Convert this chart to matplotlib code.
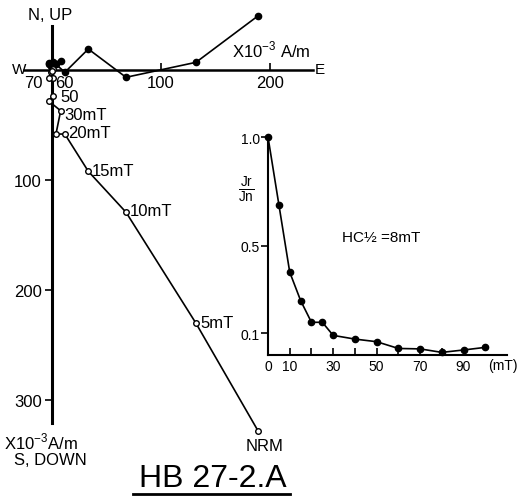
import matplotlib
matplotlib.use("Agg")
import matplotlib.pyplot as plt
from matplotlib.lines import Line2D

# ─── DATA ───────────────────────────────────────────────────────────────────
# AF demagnetisation steps (mT), step 0 = NRM
steps = [0, 5, 10, 15, 20, 25, 30, 40, 50, 60, 70, 80, 90, 100]

# Zijderveld components, x10^-3 A/m
east  = [189, 132, 68, 33.5, 12, 3.9, 8.2, -2.5, 0.9, 1.5, -2.5, -1, 1, 0]
north = [49.1, 6.7, -6.9, 18.8, -2.4, 5, 8, 6, 7, 4, 5, 3, 4, 2]
down  = [328.7, 230.5, 129.6, 92.4, 58.5, 58.5, 37.3, 28.7, 23.6, 7.5, 7.5, 2, -1, 1]

step_labels = {0: "NRM", 5: "5mT", 10: "10mT", 15: "15mT", 20: "20mT",
               30: "30mT", 50: "50", 60: "60", 70: "70"}

# normalised intensity Jr/Jn
jr_jn = [1.0, 0.69, 0.38, 0.25, 0.15, 0.15, 0.09, 0.073, 0.061,
         0.03, 0.028, 0.012, 0.023, 0.035]

main_ticks = [100, 200, 300]
inset_xticks = [0, 10, 20, 30, 40, 50, 60, 70, 80, 90]
inset_xlabels = ["0", "10", "", "30", "", "50", "", "70", "", "90"]
inset_yticks = [0.1, 0.5, 1.0]

# ─── FIGURE ─────────────────────────────────────────────────────────────────
W_PX, H_PX = 517, 502
plt.rcParams["font.family"] = ["Liberation Sans", "DejaVu Sans"]

fig = plt.figure(figsize=(W_PX / 100, H_PX / 100), dpi=100)


def fpos(x, y):
    # pixel position -> figure fraction
    return x / W_PX, 1 - y / H_PX


def ftext(x, y, s, **kw):
    fx, fy = fpos(x, y)
    fig.text(fx, fy, s, **kw)


# main Zijderveld axes, origin at pixel (51.7, 70.7)
x0, y0, sx, sy = 51.7, 70.7, 1.093, 1.10
ax = fig.add_axes([0, 0, 1, 1])
ax.patch.set_alpha(0)
ax.set_xlim(-x0 / sx, (W_PX - x0) / sx)
ax.set_ylim(-(H_PX - y0) / sy, y0 / sy)

ax.plot(east, north, "-", color="k", lw=1.2, marker="o", ms=4.5,
        mfc="k", mec="k", zorder=3)
ax.plot(east, [-d for d in down], "-", color="k", lw=1.2, marker="o", ms=4,
        mfc="white", mec="k", mew=1, zorder=4)

for s in ["top", "right"]:
    ax.spines[s].set_visible(False)
ax.spines["left"].set_position(("data", 0))
ax.spines["left"].set_bounds(-321, 40)
ax.spines["left"].set_linewidth(2.2)
ax.spines["bottom"].set_position(("data", 0))
ax.spines["bottom"].set_bounds(-25, 239)
ax.spines["bottom"].set_linewidth(1.8)

ax.set_xticks(main_ticks[:2])
ax.set_xticklabels([str(t) for t in main_ticks[:2]])
ax.tick_params(axis="x", direction="in", length=5, width=1.2, pad=4, labelsize=12)
ax.set_yticks([-t for t in main_ticks])
ax.set_yticklabels([str(t) for t in main_ticks])
ax.tick_params(axis="y", direction="out", length=5, width=1.2, pad=2, labelsize=12)

# step labels next to open circles
lab_pos = {0: (265, 447, "center"), 5: (200, 324, "left"), 10: (130, 211, "left"),
           15: (92, 172, "left"), 20: (68, 134, "left"), 30: (64, 115, "left"),
           50: (60, 98, "left"), 60: (55, 84, "left"), 70: (43, 84, "right")}
for st, lab in step_labels.items():
    x, y, ha = lab_pos[st]
    ftext(x, y, lab, ha=ha, va="center", fontsize=12)

ftext(50, 16, "N, UP", ha="center", va="center", fontsize=12)
ftext(19, 70, "W", ha="center", va="center", fontsize=11)
ftext(320, 70, "E", ha="center", va="center", fontsize=11)
ftext(232, 57, r"X10$^{\mathregular{-3}}$ A/m", ha="left", va="baseline", fontsize=12)
ftext(4, 449, r"X10$^{\mathregular{-3}}$A/m", ha="left", va="baseline", fontsize=12)
ftext(50, 461, "S, DOWN", ha="center", va="center", fontsize=12)

ftext(213, 479, "HB 27-2.A", ha="center", va="center", fontsize=23)
fig.add_artist(Line2D([133 / W_PX, 290 / W_PX], [1 - 495 / H_PX] * 2,
                      color="k", lw=2))

# ─── INSET: AF decay curve ──────────────────────────────────────────────────
il, ib = fpos(268, 356)
iax = fig.add_axes([il, ib, 239 / W_PX, 218 / H_PX])
iax.patch.set_alpha(0)
iax.set_xlim(0, 110)
iax.set_ylim(0, 1)
iax.plot(steps, jr_jn, "-", color="k", lw=1.2, marker="o", ms=4.5,
         mfc="k", clip_on=False, zorder=3)
for s in ["top", "right"]:
    iax.spines[s].set_visible(False)
iax.spines["left"].set_bounds(0, 1)
iax.spines["bottom"].set_bounds(0, 110)
iax.spines["left"].set_linewidth(1.5)
iax.spines["bottom"].set_linewidth(1.5)
iax.set_xticks(inset_xticks)
iax.set_xticklabels(inset_xlabels)
iax.tick_params(axis="x", direction="in", length=5, width=1.2, pad=3, labelsize=10)
iax.set_yticks(inset_yticks)
iax.set_yticklabels([f"{t:.1f}" for t in inset_yticks])
iax.tick_params(axis="y", direction="out", length=5, width=1.2, pad=1, labelsize=10)

ftext(503, 366, "(mT)", ha="center", va="center", fontsize=10)
ftext(246, 190, r"$\frac{\mathregular{Jr}}{\mathregular{Jn}}$", ha="center",
      va="center", fontsize=14)
ftext(342, 238, "HC½ =8mT", ha="left", va="center", fontsize=11)

fig.savefig("out.png", dpi=100)
